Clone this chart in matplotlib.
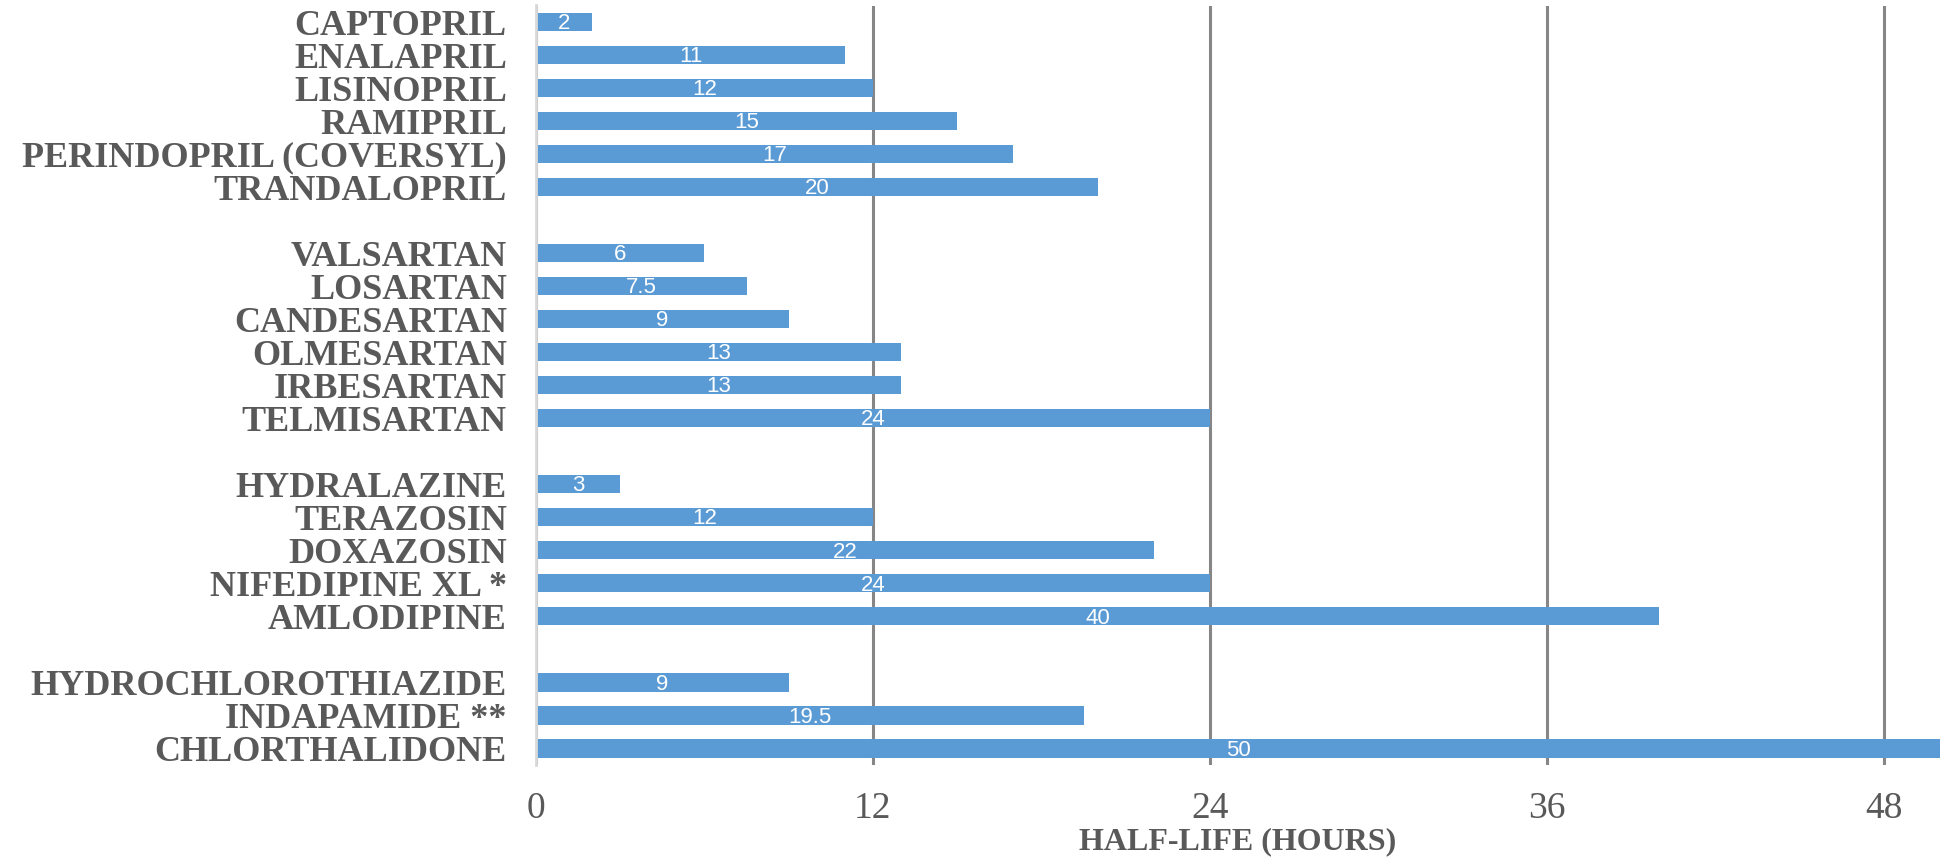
import matplotlib
matplotlib.use("Agg")
import matplotlib.pyplot as plt
from matplotlib import font_manager

# ---- data (top to bottom, groups separated by a blank row) ----
ace_names = ["CAPTOPRIL", "ENALAPRIL", "LISINOPRIL", "RAMIPRIL",
             "PERINDOPRIL (COVERSYL)", "TRANDALOPRIL"]
ace_values = [2, 11, 12, 15, 17, 20]

arb_names = ["VALSARTAN", "LOSARTAN", "CANDESARTAN", "OLMESARTAN",
             "IRBESARTAN", "TELMISARTAN"]
arb_values = [6, 7.5, 9, 13, 13, 24]

other_names = ["HYDRALAZINE", "TERAZOSIN", "DOXAZOSIN", "NIFEDIPINE XL *",
               "AMLODIPINE"]
other_values = [3, 12, 22, 24, 40]

diur_names = ["HYDROCHLOROTHIAZIDE", "INDAPAMIDE **", "CHLORTHALIDONE"]
diur_values = [9, 19.5, 50]

x_ticks = [0, 12, 24, 36, 48]
x_title = "HALF-LIFE (HOURS)"

groups = [(ace_names, ace_values), (arb_names, arb_values),
          (other_names, other_values), (diur_names, diur_values)]

# ---- style ----
BAR = "#5B9BD5"
GRID = "#868686"
TXT = "#595959"

avail = {f.name for f in font_manager.fontManager.ttflist}
serif = "Liberation Serif" if "Liberation Serif" in avail else "DejaVu Serif"
num_font = "Liberation Sans Narrow" if "Liberation Sans Narrow" in avail else "Liberation Sans"

fig = plt.figure(figsize=(19.46, 8.57), dpi=100)
ax = fig.add_axes([536 / 1946, 1 - 765 / 857, (1940 - 536) / 1946, (765 - 5.5) / 857])

# compute positions (row 0 at top)
positions, names, values = [], [], []
row = 0
for gi, (nm, vl) in enumerate(groups):
    for n, v in zip(nm, vl):
        positions.append(row)
        names.append(n)
        values.append(v)
        row += 1
    if gi < len(groups) - 1:
        row += 1
n_rows = row

ax.barh(positions, values, height=0.55, color=BAR, zorder=3)

for p, v in zip(positions, values):
    lbl = f"{v:g}"
    ax.text(v / 2, p + 0.05, lbl, ha="center", va="center", color="white",
            fontsize=16, family=num_font, zorder=4)

ax.set_ylim(n_rows - 0.5, -0.5)
ax.set_xlim(0, 50)
ax.set_yticks(positions)
ax.set_yticklabels(names, family=serif, fontweight="bold", fontsize=26, color=TXT)
ax.set_xticks(x_ticks)
ax.set_xticklabels([str(t) for t in x_ticks], family=serif, fontsize=27, color=TXT)
ax.tick_params(axis="y", length=0, pad=21)
ax.tick_params(axis="x", length=0, pad=19)

ax.grid(axis="x", color=GRID, linewidth=2.2, zorder=0)
ax.grid(axis="y", visible=False)
for s in ["top", "right", "bottom"]:
    ax.spines[s].set_visible(False)
ax.spines["left"].set_color("#d9d9d9")
ax.spines["left"].set_linewidth(2)
ax.spines["left"].set_zorder(5)
ax.set_axisbelow(True)

fig.text((536 + 1940) / 2 / 1946, 1 - 842 / 857, x_title, ha="center", va="center",
         family=serif, fontweight="bold", fontsize=23, color=TXT)

fig.savefig("out.png", dpi=100)
